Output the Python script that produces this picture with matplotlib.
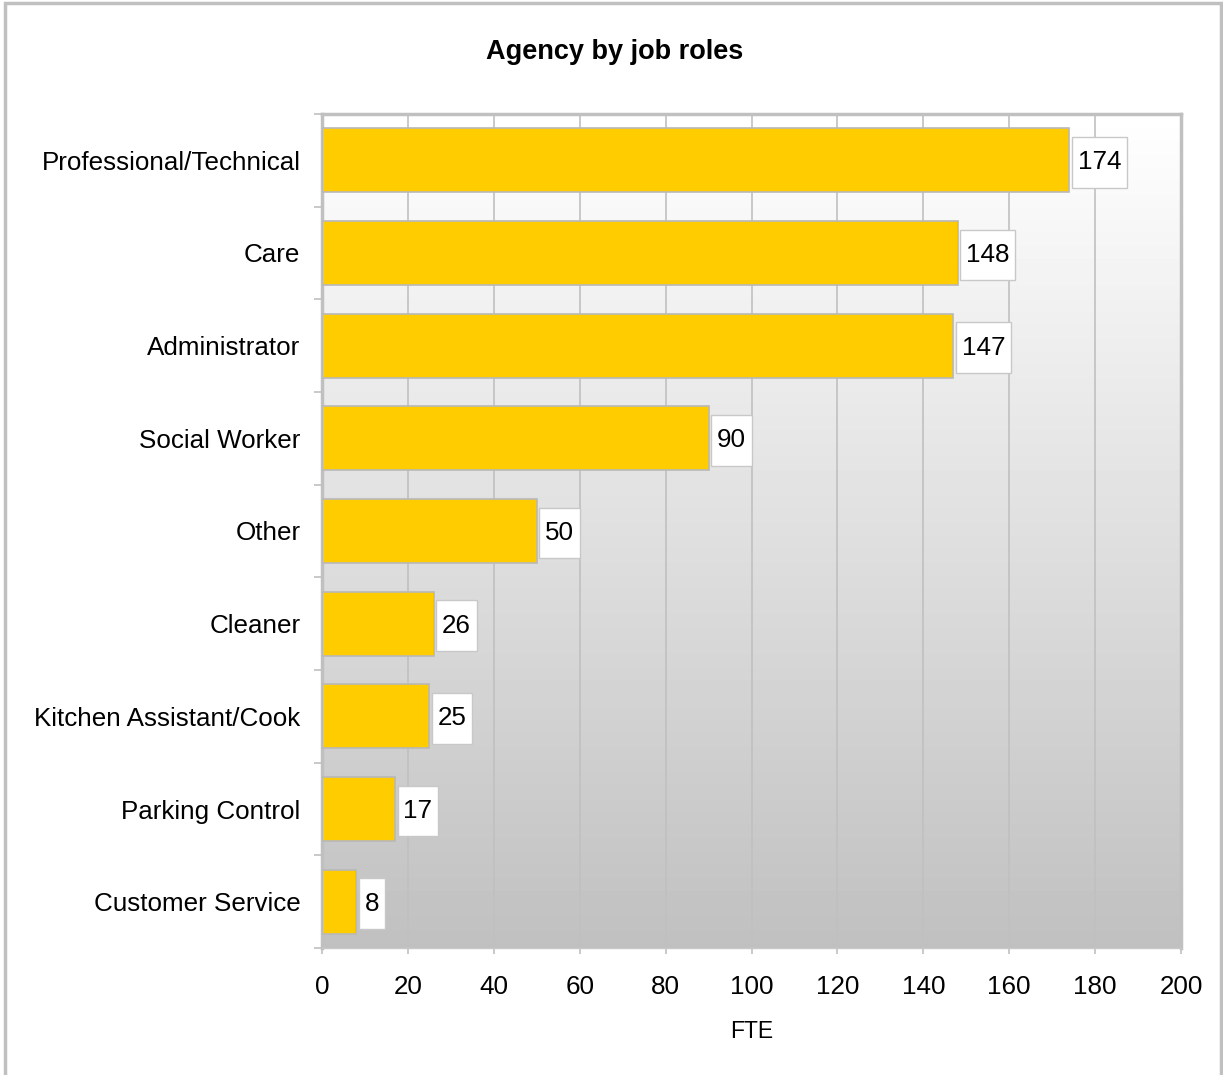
import numpy as np
import matplotlib
matplotlib.use("Agg")
import matplotlib.pyplot as plt
from matplotlib.patches import Rectangle
from matplotlib.path import Path

plt.rcParams['font.family'] = ['Liberation Sans', 'DejaVu Sans']

roles = ["Professional/Technical", "Care", "Administrator", "Social Worker", "Other",
         "Cleaner", "Kitchen Assistant/Cook", "Parking Control", "Customer Service"]
fte = [174, 148, 147, 90, 50, 26, 25, 17, 8]
xticks = [0, 20, 40, 60, 80, 100, 120, 140, 160, 180, 200]

W, H = 1223, 1075
fig = plt.figure(figsize=(W / 100, H / 100), dpi=100)
fig.patch.set_facecolor("white")

# outer frame of the chart object
fig.add_artist(Rectangle((5 / W, -0.05), (1221 - 5) / W, (H - 3) / H + 0.05,
                         transform=fig.transFigure, fill=False,
                         edgecolor="#c0c0c0", linewidth=2.5))

ax = fig.add_axes([322 / W, 1 - 948 / H, (1181 - 322) / W, (948 - 114) / H])

# vertical gradient backdrop: white at top to grey at bottom
grad = np.linspace(1.0, 0.753, 256).reshape(-1, 1)
ax.imshow(grad, cmap="gray", vmin=0, vmax=1, aspect="auto",
          extent=[0, 200, len(roles) - 0.5, -0.5], zorder=0, interpolation="bicubic")

y = np.arange(len(roles))
ax.barh(y, fte, height=0.69, color="#ffcc00", edgecolor="#b8b8b8",
        linewidth=1.2, zorder=3)


def label_box(x0, y0, width, height, mutation_size):
    """Narrow horizontal padding, tall fixed-height box around a value label."""
    padx = 0.22 * mutation_size
    h = 1.95 * mutation_size
    cy = y0 + height / 2
    left, right = x0 - padx, x0 + width + padx
    bottom, top = cy - h / 2, cy + h / 2
    return Path([(left, bottom), (right, bottom), (right, top), (left, top),
                 (left, bottom)], closed=True)


FS = 18.7
for yi, v in zip(y, fte):
    ax.annotate(str(v), xy=(v, yi), xytext=(6, -1.5), textcoords="offset points",
                ha="left", va="center", fontsize=FS, color="black", zorder=5,
                bbox=dict(boxstyle=label_box, facecolor="white",
                          edgecolor="#c8c8c8", linewidth=1))

ax.set_xlim(0, 200)
ax.set_ylim(len(roles) - 0.5, -0.5)
ax.set_xticks(xticks)
ax.set_xticklabels([str(t) for t in xticks], fontsize=FS)
ax.set_yticks(y)
ax.set_yticklabels(roles, fontsize=FS)
ax.tick_params(axis="y", length=0, pad=15.5)
ax.set_yticks(np.arange(-0.5, len(roles), 1.0), minor=True)
ax.tick_params(axis="y", which="minor", length=6, color="#c0c0c0", width=1.2)
ax.tick_params(axis="x", length=4, color="#c0c0c0", width=1.2, pad=15.5)

ax.grid(axis="x", color="#c0c0c0", linewidth=1.2, zorder=1)
ax.set_axisbelow(True)
for side in ["left", "top", "right"]:
    ax.spines[side].set_color("#c0c0c0")
    ax.spines[side].set_linewidth(2.5)
ax.spines["bottom"].set_color("#c8c8c8")
ax.spines["bottom"].set_linewidth(1)

ax.set_xlabel("FTE", fontsize=16.5, labelpad=15)
fig.text(615 / W, 1 - 52 / H, "Agency by job roles", ha="center", va="center",
         fontsize=19.5, fontweight="bold")

fig.savefig("out.png", dpi=100, facecolor="white")
